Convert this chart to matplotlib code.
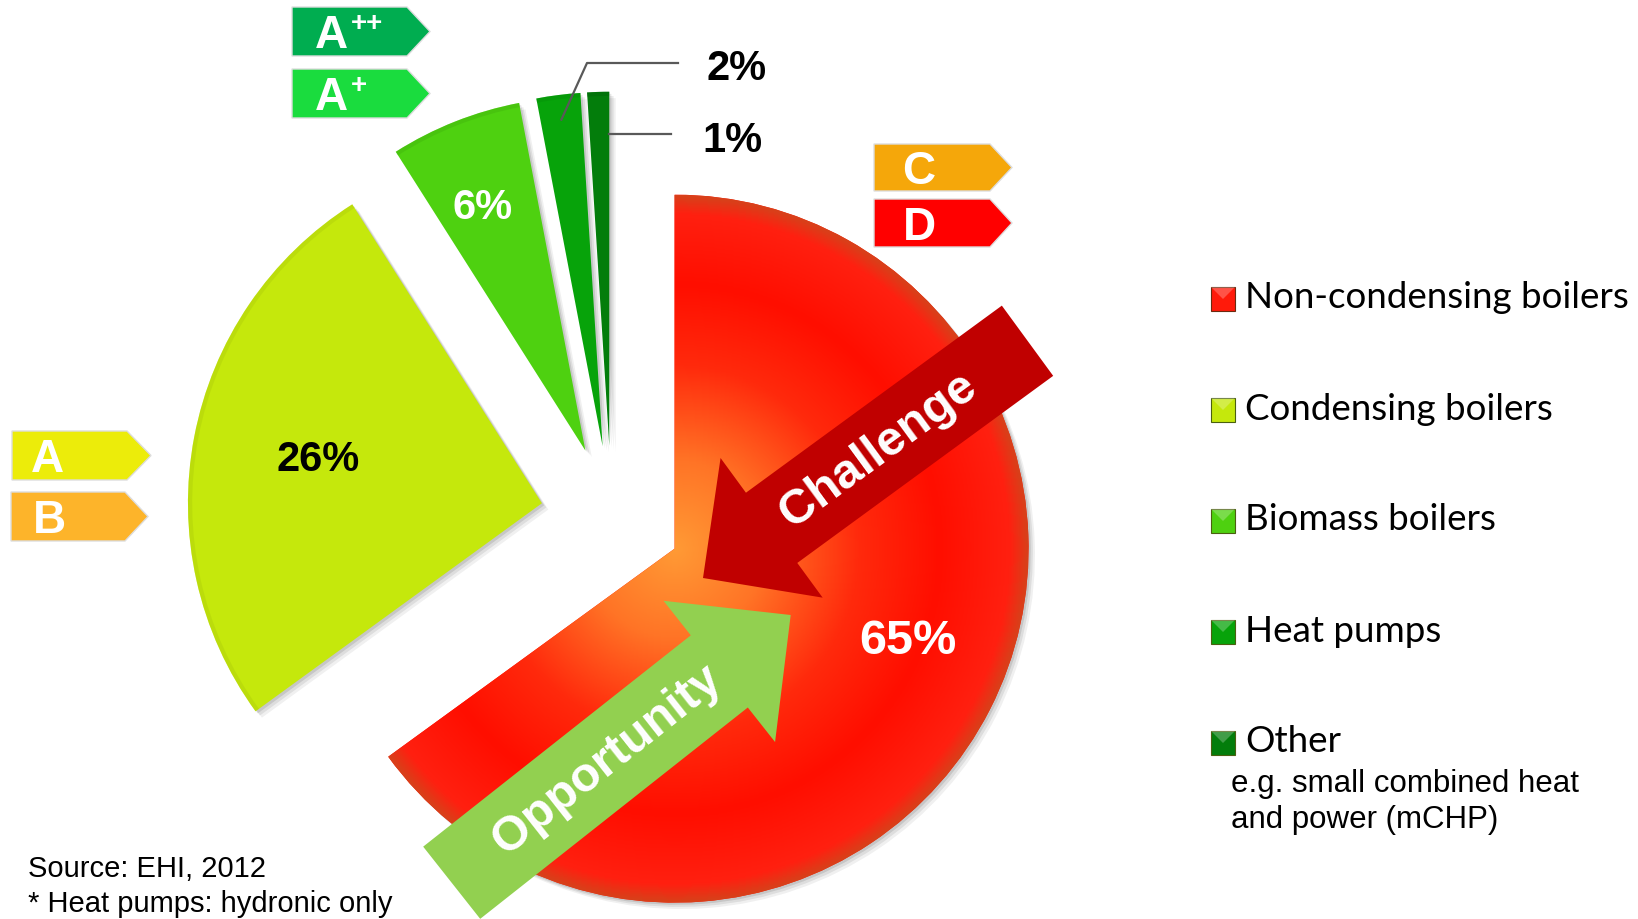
import numpy as np
import matplotlib
matplotlib.use("Agg")
import matplotlib.pyplot as plt
from matplotlib.patches import Polygon, Rectangle, Wedge
from matplotlib.colors import LinearSegmentedColormap

# ---- data ------------------------------------------------------------
categories = ["Non-condensing boilers", "Condensing boilers", "Biomass boilers",
              "Heat pumps", "Other"]
shares = [65, 26, 6, 2, 1]
slice_colors = ["#FF1A0A", "#C5E80C", "#4ED110", "#07A30A", "#037D0B"]
other_note = ["e.g. small combined heat", "and power (mCHP)"]
source_lines = ["Source: EHI, 2012", "* Heat pumps: hydronic only"]

tag_letters = ["A", "A", "C", "D", "A", "B"]
tag_sups = ["++", "+", "", "", "", ""]
tag_colors = ["#00AD50", "#1ADC3E", "#F5A70A", "#FF0000", "#ECEC0A", "#FDB42A"]

arrow_texts = ["Challenge", "Opportunity"]
arrow_colors = ["#C00000", "#92D050"]

# ---- layout (pixels, y down) -----------------------------------------
W, H = 1638, 919
CX, CY, R = 611.5, 516.5, 354.0
LIM = 1.6

fig = plt.figure(figsize=(W / 100, H / 100), dpi=100)
fig.patch.set_facecolor("white")

side = 2 * LIM * R
ax_pie = fig.add_axes([(CX - LIM * R) / W, ((H - CY) - LIM * R) / H, side / W, side / H])
ax_pie.set_zorder(1)

wedges, _ = ax_pie.pie(shares, colors=slice_colors, startangle=90, counterclock=False,
                       explode=[0.2] * len(shares), radius=1,
                       wedgeprops=dict(linewidth=0.8, edgecolor="none"))

# soft shadows under each slice
for w in wedges:
    for k, a in enumerate([0.10, 0.08, 0.06]):
        off = 0.006 * (k + 1)
        s = Wedge((w.center[0] + off, w.center[1] - off), w.r, w.theta1, w.theta2,
                  facecolor="black", edgecolor="none", alpha=a, zorder=0.5)
        ax_pie.add_patch(s)

# radial gradient for the big red slice
red_cmap = LinearSegmentedColormap.from_list("red", [
    (0.0, "#FF9A35"), (0.25, "#FF7426"), (0.52, "#FF2A0C"),
    (0.75, "#FF0E00"), (0.95, "#FF2010"), (1.0, "#D8401A")])
w0 = wedges[0]
c0 = np.array(w0.center)
gx = np.linspace(c0[0] - 1, c0[0] + 1, 500)
gy = np.linspace(c0[1] - 1, c0[1] + 1, 500)
X, Y = np.meshgrid(gx, gy)
rr = np.hypot(X - c0[0], Y - c0[1])
im = ax_pie.imshow(rr, cmap=red_cmap, vmin=0, vmax=1, origin="lower",
                   extent=(gx[0], gx[-1], gy[0], gy[-1]), interpolation="bilinear",
                   zorder=w0.get_zorder() + 0.1)
im.set_clip_path(w0)

# faint rim shading for the green / yellow slices
for w, col in zip(wedges[1:], ["#A9C80A", "#3DAE0C", "#058A08", "#02620A"]):
    rim = Wedge(w.center, w.r, w.theta1, w.theta2, width=0.012,
                facecolor=col, edgecolor="none", alpha=0.35, zorder=w.get_zorder() + 0.2)
    ax_pie.add_patch(rim)

ax_pie.set_xlim(-LIM, LIM)
ax_pie.set_ylim(-LIM, LIM)
ax_pie.axis("off")


def to_px(x, y):
    return CX + x * R, CY - y * R


# ---- overlay in pixel coordinates -------------------------------------
ax = fig.add_axes([0, 0, 1, 1])
ax.set_zorder(2)
ax.patch.set_alpha(0)
ax.set_xlim(0, W)
ax.set_ylim(H, 0)
ax.axis("off")

ARIAL = "Liberation Sans"

# percentage labels inside slices
label_pos = [(908, 641), (318, 460), (483, 208)]
label_cols = ["white", "black", "white"]
label_sizes = [35, 30, 30]
for v, (lx, ly), lc, fs in zip(shares[:3], label_pos, label_cols, label_sizes):
    ax.text(lx, ly, f"{v}%", color=lc, fontsize=fs, fontweight="bold", family=ARIAL,
            ha="center", va="center")

# outside labels with leader lines for the two thin slices
w2, w3 = wedges[3], wedges[4]
tm = np.deg2rad((w2.theta1 + w2.theta2) / 2)
p2 = to_px(w2.center[0] + 0.93 * np.cos(tm), w2.center[1] + 0.93 * np.sin(tm))
ax.plot([p2[0], 587, 678], [p2[1], 63, 63], color="#595959", lw=1.6)
ax.text(707, 80, f"{shares[3]}%", fontsize=30, fontweight="bold", family=ARIAL,
        ha="left", va="baseline")
t3 = np.deg2rad(w3.theta1)
p3 = to_px(w3.center[0] + 0.88 * np.cos(t3), w3.center[1] + 0.88 * np.sin(t3))
ax.plot([p3[0], 671], [p3[1], p3[1]], color="#595959", lw=1.6)
ax.text(702, 152, f"{shares[4]}%", fontsize=30, fontweight="bold", family=ARIAL,
        ha="left", va="baseline")


# big block arrows
def block_arrow(tip, udir, length, shaft_w, head_w, head_len):
    tip = np.array(tip, float)
    u = np.array(udir, float)
    u /= np.hypot(*u)
    n = np.array([-u[1], u[0]])
    hb = tip + head_len * u
    tail = tip + length * u
    return [tip, hb + head_w / 2 * n, hb + shaft_w / 2 * n, tail + shaft_w / 2 * n,
            tail - shaft_w / 2 * n, hb - shaft_w / 2 * n, hb - head_w / 2 * n]


arrow_geo = [((703, 578), (0.807, -0.590), 402, 87, 173, 85, 217),
             ((790.7, 615), (-0.785, 0.620), 432, 92, 180, 91, 234)]
for txt, col, (tip, u, L, sw, hw, hl, tpos) in zip(arrow_texts, arrow_colors, arrow_geo):
    ax.add_patch(Polygon(block_arrow(tip, u, L, sw, hw, hl), closed=True,
                         facecolor=col, edgecolor="none"))
    uu = np.array(u) / np.hypot(*u)
    cx, cy = np.array(tip) + tpos * uu
    ang = np.degrees(np.arctan2(abs(uu[1]), abs(uu[0])))
    ax.text(cx, cy, txt, color="white", fontsize=35, fontweight="bold", family=ARIAL,
            rotation=ang, rotation_mode="anchor", ha="center", va="center")

# energy-label tags
tag_geo = [(292, 407, 430, 7, 56), (292, 407, 430, 69, 118),
           (874, 990, 1012, 144, 191), (874, 990, 1012, 199, 247),
           (12, 127, 151, 431, 480), (11, 125, 148, 492, 541)]
tag_text_x = [315, 315, 902, 903, 31, 33]
for letter, sup, col, (x0, x1, xt, y0, y1), tx in zip(tag_letters, tag_sups, tag_colors,
                                                       tag_geo, tag_text_x):
    ym = (y0 + y1) / 2
    ax.add_patch(Polygon([(x0, y0), (x1, y0), (xt, ym), (x1, y1), (x0, y1)], closed=True,
                         facecolor=col, edgecolor="#DDDDDD", lw=1.0))
    base = ym + 16.5
    ax.text(tx, base, letter, color="white", fontsize=33, fontweight="bold", family=ARIAL,
            ha="left", va="baseline")
    if sup:
        ax.text(tx + 36, y0 + 17, sup, color="white", fontsize=20, fontweight="bold",
                family=ARIAL, ha="left", va="center")

# legend
row_y = [299, 410, 521, 632, 743]
for cat, col, ry in zip(categories, slice_colors, row_y):
    ax.add_patch(Rectangle((1211, ry - 12), 24, 24, facecolor=col,
                           edgecolor="#6B2A10" if col == slice_colors[0] else "#4A6010",
                           lw=0.8))
    ax.add_patch(Polygon([(1211, ry - 12), (1235, ry - 12), (1223, ry)], closed=True,
                         facecolor="white", alpha=0.25, edgecolor="none"))
    ax.text(1245, ry - 1, cat, fontsize=26.5, family="Lato", ha="left", va="center")
for i, line in enumerate(other_note):
    ax.text(1231, 792 + 36 * i, line, fontsize=22.5, family=ARIAL, ha="left", va="baseline")

# source notes
for i, line in enumerate(source_lines):
    ax.text(28, 877 + 35 * i, line, fontsize=21, family=ARIAL, ha="left", va="baseline")

fig.savefig("out.png", dpi=100)
